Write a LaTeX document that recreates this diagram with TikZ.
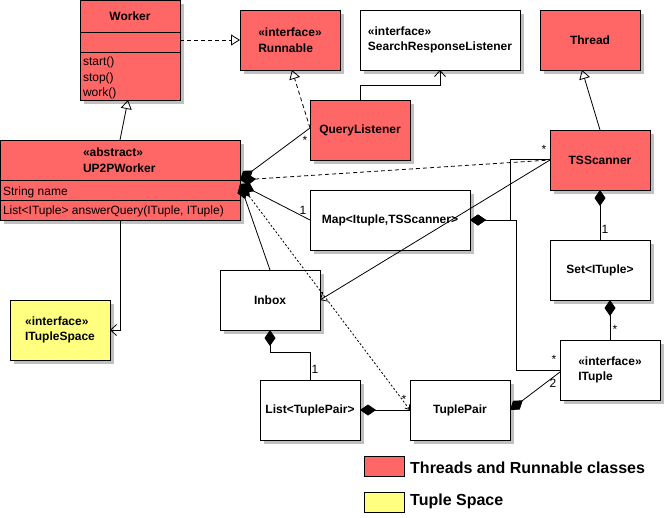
\documentclass[tikz,border=0pt]{standalone}
\usepackage{fontspec}
\setmainfont{Liberation Sans}
\usetikzlibrary{arrows.meta,shadows}
\definecolor{thr}{RGB}{255,102,102}
\definecolor{tsp}{RGB}{255,255,128}
\definecolor{shd}{RGB}{192,192,192}
\tikzset{
  cls/.style={draw, line width=1pt, anchor=north west, inner sep=0pt, outer sep=0pt, align=left,
    font=\bfseries\fontsize{12}{15.5}\selectfont,
    drop shadow={shadow xshift=4pt, shadow yshift=-4pt, fill=shd, opacity=1}},
  txt/.style={inner sep=0pt, outer sep=0pt, font=\fontsize{12}{15.5}\selectfont},
  btxt/.style={inner sep=0pt, outer sep=0pt, font=\bfseries\fontsize{12}{15.5}\selectfont},
  mult/.style={inner sep=0pt, font=\fontsize{12}{14}\selectfont},
  legbox/.style={draw, line width=1pt, anchor=north west, minimum width=40pt, minimum height=20pt, inner sep=0pt, outer sep=0pt},
  legtxt/.style={anchor=base west, inner sep=0pt, font=\bfseries\fontsize{16}{18}\selectfont},
  conn/.style={line width=0.8pt},
  dsh/.style={dash pattern=on 4pt off 3pt},
  fdot/.style={dash pattern=on 2pt off 2pt},
  gen/.style={-{Triangle[open, length=9pt, width=11pt]}},
  nav/.style={-{Straight Barb[length=6pt, width=11pt]}},
  comp/.style={{Diamond[length=16pt, width=11pt]}-},
}
\begin{document}
\begin{tikzpicture}[x=1pt,y=-1pt]
\useasboundingbox[fill=white] (0,0) rectangle (666,517);

% Worker
\node[cls, fill=thr, minimum width=100pt, minimum height=100pt] (worker) at (80,0) {};
\node[btxt] (workerT) at (130,16) {Worker};
\draw[line width=1pt] (80,32) -- (180,32);
\draw[line width=1pt] (80,52) -- (180,52);
\node[txt, anchor=base west] (wm1) at (83,65.5) {start()};
\node[txt, anchor=base west] (wm2) at (83,81) {stop()};
\node[txt, anchor=base west] (wm3) at (83,96.5) {work()};

% UP2PWorker
\node[cls, fill=thr, minimum width=240pt, minimum height=80pt] (up2p) at (0,140) {};
\node[btxt, anchor=base west] (up2pS) at (83,156.5) {«abstract»};
\node[btxt, anchor=base west] (up2pT) at (83,172.3) {UP2PWorker};
\draw[line width=1pt] (0,180) -- (240,180);
\draw[line width=1pt] (0,200) -- (240,200);
\node[txt, anchor=base west] (up2pA) at (3,195) {String name};
\node[txt, anchor=base west] (up2pM) at (3,214.5) {List<ITuple> answerQuery(ITuple, ITuple)};

% other classes
\node[cls, fill=thr, minimum width=100pt, minimum height=60pt] (runnable) at (240,10) {«interface»\\Runnable};
\node[cls, fill=white, minimum width=160pt, minimum height=60pt] (srl) at (360,10) {«interface»\\SearchResponseListener};
\node[cls, fill=thr, minimum width=100pt, minimum height=60pt] (thread) at (540,10) {Thread};
\node[cls, fill=thr, minimum width=100pt, minimum height=60pt] (ql) at (310,100) {QueryListener};
\node[cls, fill=thr, minimum width=100pt, minimum height=60pt] (ts) at (550,130) {TSScanner};
\node[cls, fill=white, minimum width=160pt, minimum height=60pt] (map) at (310,190) {Map<Ituple,TSScanner>};
\node[cls, fill=white, minimum width=100pt, minimum height=60pt] (inbox) at (220,270) {Inbox};
\node[cls, fill=white, minimum width=100pt, minimum height=60pt] (set) at (550,240) {Set<ITuple>};
\node[cls, fill=tsp, minimum width=100pt, minimum height=60pt] (its) at (10,300) {«interface»\\ITupleSpace};
\node[cls, fill=white, minimum width=100pt, minimum height=60pt] (ituple) at (560,340) {«interface»\\ITuple};
\node[cls, fill=white, minimum width=100pt, minimum height=60pt] (list) at (260,380) {List<TuplePair>};
\node[cls, fill=white, minimum width=100pt, minimum height=60pt] (tp) at (410,380) {TuplePair};

% connectors
\draw[conn, dsh, gen] ([yshift=10pt]worker.east) -- (runnable.west);
\draw[conn, gen] (up2p.north) -- ([xshift=-2pt]worker.south);
\draw[conn, dsh, gen] ([yshift=2pt]ql.west) -- ([xshift=2pt]runnable.south);
\draw[conn, nav] (ql.north) -- ++(0,-15) -| (srl.south);
\draw[conn, gen] (ts.north) -- ([xshift=-8pt]thread.south);
\draw[conn, comp] (ts.south) -- (set.north);
\draw[conn, comp] ([xshift=10pt]set.south) -- (ituple.north);
\draw[conn, comp] (tp.east) -- ([yshift=-2pt]ituple.west);
\draw[conn, comp] (list.east) -- (tp.west);
\draw[conn, comp] (inbox.south) -- ++(0,22) -| (list.north);
\draw[conn, nav] (up2p.south) |- (its.east);

\draw[conn, comp] (up2p.east) -- ([yshift=2pt]ql.west);
\draw[conn, dsh, comp] (up2p.east) -- (ts.west);
\draw[conn, comp] ([yshift=-4pt]up2p.east) -- (map.west);
\draw[conn, comp] ([yshift=-4pt]up2p.east) -- (inbox.north);
\draw[conn, fdot, {Diamond[length=16pt, width=11pt]}-{Straight Barb[length=4pt, width=6pt]}] ([yshift=-4pt]up2p.east) -- (tp.west);

\draw[conn, nav] (ts.west) -- (inbox.east);
\draw[conn, comp] (map.east) -- ++(40,0) |- ([yshift=1pt]ts.west);
\draw[conn, comp] (map.east) -- ++(46,0) |- (ituple.west);

% multiplicities
\node[mult] (m1) at (305,140) {*};
\node[mult] (m2) at (544,149) {*};
\node[mult] (m3) at (303,210) {1};
\node[mult] (m4) at (605,229) {1};
\node[mult] (m5) at (615,329) {*};
\node[mult] (m6) at (554,359) {*};
\node[mult] (m7) at (553,383) {2};
\node[mult] (m8) at (315,369) {1};
\node[mult] (m9) at (404,399) {*};

% legend
\node[legbox, fill=thr] (legR) at (364,456) {};
\node[legtxt] (legRt) at (410,473) {Threads and Runnable classes};
\node[legbox, fill=tsp] (legY) at (364,492) {};
\node[legtxt] (legYt) at (410,505) {Tuple Space};
\end{tikzpicture}
\end{document}
